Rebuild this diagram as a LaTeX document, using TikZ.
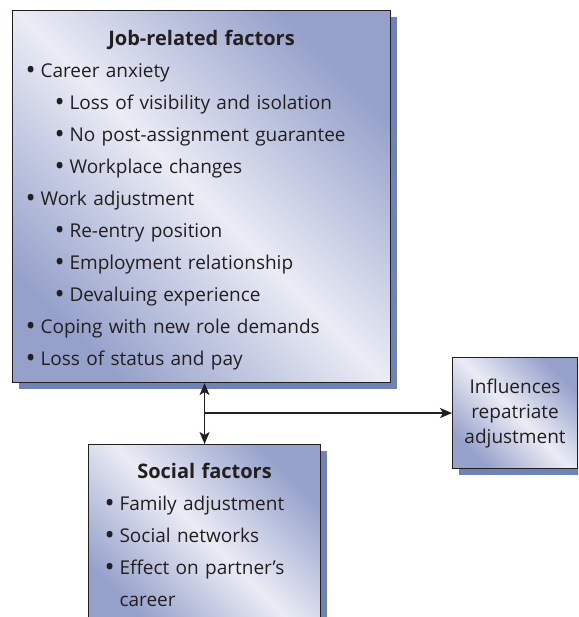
\documentclass[tikz,border=0pt]{standalone}
\usepackage{fontspec}
\setmainfont{Open Sans}
\usepackage{tikz}
\usetikzlibrary{arrows.meta,positioning,shadows}
\definecolor{boxdark}{RGB}{150,161,203}
\definecolor{boxlight}{RGB}{234,236,245}
\definecolor{shadowblue}{RGB}{111,132,181}
\definecolor{inkgray}{RGB}{35,31,32}
\newcommand{\blt}{\raisebox{-1.6pt}{\fontsize{27}{0}\selectfont\textbullet}}
\newcommand{\itm}[1]{\makebox[15pt][l]{\blt}#1}
\newcommand{\subitm}[1]{\hspace*{29pt}\makebox[15pt][l]{\blt}#1}
\newcommand{\boxtitle}[1]{\makebox[\linewidth]{\fontsize{20}{32}\selectfont\bfseries #1}}

\begin{document}
\begin{tikzpicture}[
  x=1pt,y=-1pt,
  factorbox/.style={rectangle,draw=inkgray,line width=1.1pt,left color=boxdark,right color=boxdark,middle color=boxlight,shading angle=135,
    general shadow={fill=shadowblue,draw=none,shadow xshift=6pt,shadow yshift=-6pt},
    text=inkgray,font=\fontsize{19}{32}\selectfont,align=left,inner xsep=0pt,inner ysep=19pt,anchor=north west},
  line/.style={draw=inkgray,line width=1.2pt},
  tip/.style={-{Stealth[length=12pt,width=10pt,inset=3pt]}},
  twotip/.style={{Stealth[length=12pt,width=10pt,inset=3pt]}-{Stealth[length=12pt,width=10pt,inset=3pt]}}
]
  \clip (0,0) rectangle (578,617);
  \node[factorbox,text width=352pt,minimum width=378pt,minimum height=372pt,inner ysep=0pt] (job) at (12,10) {%
    \rule{0pt}{23pt}\boxtitle{Job-related factors}\\
    \itm{Career anxiety}\\
    \subitm{Loss of visibility and isolation}\\
    \subitm{No post-assignment guarantee}\\
    \subitm{Workplace changes}\\
    \itm{Work adjustment}\\
    \subitm{Re-entry position}\\
    \subitm{Employment relationship}\\
    \subitm{Devaluing experience}\\
    \itm{Coping with new role demands}\\
    \itm{Loss of status and pay}};
  \node[factorbox,align=center,inner ysep=0pt,minimum width=125pt,minimum height=111pt,font=\fontsize{19}{25}\selectfont] (infl) at (452,357) {Influences\\repatriate\\adjustment};
  \node[factorbox,text width=200pt,minimum width=232pt,inner ysep=19pt] (soc) at (88,444) {%
    \boxtitle{Social factors}\\
    \itm{Family adjustment}\\
    \itm{Social networks}\\
    \itm{Effect on partner’s}\\
    \hspace*{15pt}career};

  \coordinate (junc) at (soc.north |- infl.west);
  \draw[line,twotip] (job.south -| soc.north) -- (soc.north);
  \draw[line,tip] (junc) -- (infl.west);
\end{tikzpicture}
\end{document}
